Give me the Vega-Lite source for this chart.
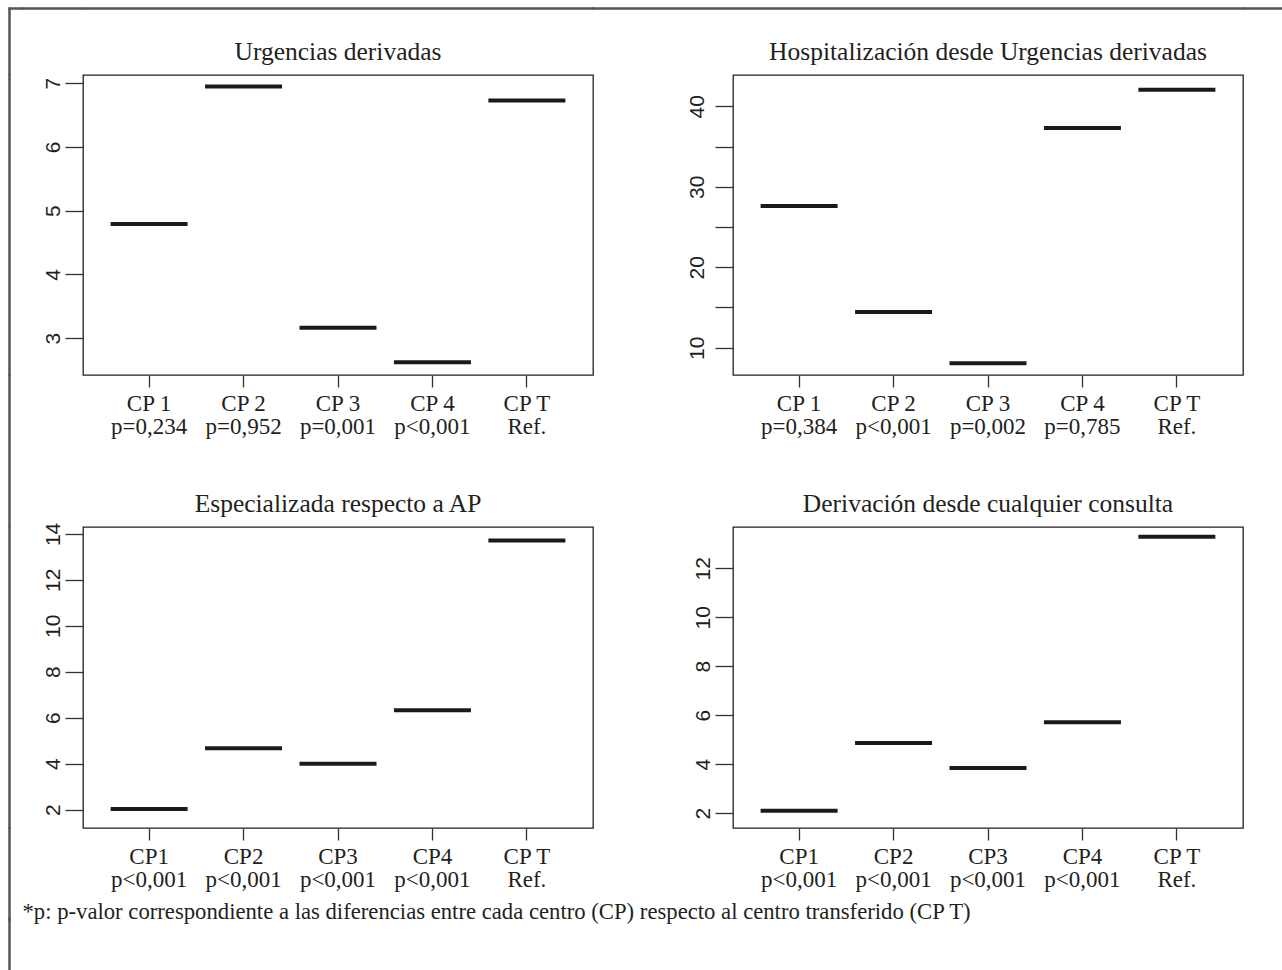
{
  "$schema": "https://vega.github.io/schema/vega-lite/v6.json",
  "padding": {"left": 8, "top": 7, "right": 0, "bottom": 0},
  "background": "white",
  "datasets": {
    "vacio": [{"v": 0}],
    "nota": [{"texto": "*p: p-valor correspondiente a las diferencias entre cada centro (CP) respecto al centro transferido (CP T)"}],
    "medianas": [
      {"panel": "A", "cp": "CP 1|p=0,234", "valor": 4.79},
      {"panel": "A", "cp": "CP 2|p=0,952", "valor": 6.95},
      {"panel": "A", "cp": "CP 3|p=0,001", "valor": 3.16},
      {"panel": "A", "cp": "CP 4|p<0,001", "valor": 2.62},
      {"panel": "A", "cp": "CP T|Ref.", "valor": 6.73},
      {"panel": "B", "cp": "CP 1|p=0,384", "valor": 27.6},
      {"panel": "B", "cp": "CP 2|p<0,001", "valor": 14.45},
      {"panel": "B", "cp": "CP 3|p=0,002", "valor": 8.06},
      {"panel": "B", "cp": "CP 4|p=0,785", "valor": 37.3},
      {"panel": "B", "cp": "CP T|Ref.", "valor": 42.06},
      {"panel": "C", "cp": "CP1|p<0,001", "valor": 2.03},
      {"panel": "C", "cp": "CP2|p<0,001", "valor": 4.67},
      {"panel": "C", "cp": "CP3|p<0,001", "valor": 4.0},
      {"panel": "C", "cp": "CP4|p<0,001", "valor": 6.32},
      {"panel": "C", "cp": "CP T|Ref.", "valor": 13.71},
      {"panel": "D", "cp": "CP1|p<0,001", "valor": 2.1},
      {"panel": "D", "cp": "CP2|p<0,001", "valor": 4.86},
      {"panel": "D", "cp": "CP3|p<0,001", "valor": 3.84},
      {"panel": "D", "cp": "CP4|p<0,001", "valor": 5.71},
      {"panel": "D", "cp": "CP T|Ref.", "valor": 13.29}
    ]
  },
  "config": {
    "view": {"stroke": null},
    "text": {"fontSize": 0},
    "title": {"font": "Liberation Serif", "fontSize": 25.5, "fontWeight": "normal", "color": "#231f20", "baseline": "alphabetic", "offset": 10, "anchor": "middle", "frame": "group"},
    "axis": {"domain": false, "grid": false, "title": null, "tickColor": "#333333", "tickWidth": 1.3, "labelColor": "#231f20", "labelFlush": false, "labelOverlap": false, "labelBound": false},
    "axisX": {"tickSize": 12, "labelFont": "Liberation Serif", "labelFontSize": 23, "labelPadding": 5.5, "labelLineHeight": 23, "labelAngle": 0, "labelBaseline": "top", "labelAlign": "center", "bandPosition": 0.5},
    "axisY": {"tickSize": 18, "labelFont": "Liberation Sans", "labelFontSize": 21, "labelAngle": -90, "labelPadding": 6, "labelBaseline": "alphabetic", "labelAlign": "center"}
  },
  "columns": 7,
  "spacing": 0,
  "bounds": "flush",
  "align": "each",
  "resolve": {"scale": {"x": "independent", "y": "independent"}},
  "concat": [
    {"data": {"name": "vacio"}, "width": 1, "height": 1, "view": {"stroke": "#555555", "strokeWidth": 1.5}, "mark": {"type": "text"}, "encoding": {"text": {"value": ""}}},
    {"data": {"name": "vacio"}, "width": 12, "height": 1, "view": {"stroke": "#555555", "strokeWidth": 1.5}, "mark": {"type": "text"}, "encoding": {"text": {"value": ""}}},
    {"data": {"name": "vacio"}, "width": 60.55, "height": 1, "view": {"stroke": "#555555", "strokeWidth": 1.5}, "mark": {"type": "text"}, "encoding": {"text": {"value": ""}}},
    {"data": {"name": "vacio"}, "width": 510, "height": 1, "view": {"stroke": "#555555", "strokeWidth": 1.5}, "mark": {"type": "text"}, "encoding": {"text": {"value": ""}}},
    {"data": {"name": "vacio"}, "width": 139.15, "height": 1, "view": {"stroke": "#555555", "strokeWidth": 1.5}, "mark": {"type": "text"}, "encoding": {"text": {"value": ""}}},
    {"data": {"name": "vacio"}, "width": 510, "height": 1, "view": {"stroke": "#555555", "strokeWidth": 1.5}, "mark": {"type": "text"}, "encoding": {"text": {"value": ""}}},
    {"data": {"name": "vacio"}, "width": 39.5, "height": 1, "view": {"stroke": "#555555", "strokeWidth": 1.5}, "mark": {"type": "text"}, "encoding": {"text": {"value": ""}}},

    {"data": {"name": "vacio"}, "width": 1, "height": 65.55, "view": {"stroke": "#555555", "strokeWidth": 1.5}, "mark": {"type": "text"}, "encoding": {"text": {"value": ""}}},
    {"data": {"name": "vacio"}, "width": 1, "height": 1, "mark": {"type": "text"}, "encoding": {"text": {"value": ""}}},
    {"data": {"name": "vacio"}, "width": 1, "height": 1, "mark": {"type": "text"}, "encoding": {"text": {"value": ""}}},
    {"data": {"name": "vacio"}, "width": 1, "height": 1, "mark": {"type": "text"}, "encoding": {"text": {"value": ""}}},
    {"data": {"name": "vacio"}, "width": 1, "height": 1, "mark": {"type": "text"}, "encoding": {"text": {"value": ""}}},
    {"data": {"name": "vacio"}, "width": 1, "height": 1, "mark": {"type": "text"}, "encoding": {"text": {"value": ""}}},
    {"data": {"name": "vacio"}, "width": 1, "height": 1, "mark": {"type": "text"}, "encoding": {"text": {"value": ""}}},

    {"data": {"name": "vacio"}, "width": 1, "height": 300, "view": {"stroke": "#555555", "strokeWidth": 1.5}, "mark": {"type": "text"}, "encoding": {"text": {"value": ""}}},
    {"data": {"name": "vacio"}, "width": 1, "height": 1, "mark": {"type": "text"}, "encoding": {"text": {"value": ""}}},
    {"data": {"name": "vacio"}, "width": 1, "height": 1, "mark": {"type": "text"}, "encoding": {"text": {"value": ""}}},
    {
      "data": {"name": "medianas"},
      "width": 510, "height": 300,
      "title": "Urgencias derivadas",
      "view": {"stroke": "#231f20", "strokeWidth": 1.3},
      "transform": [{"filter": "datum.panel === 'A'"}],
      "mark": {"type": "tick", "size": 77, "thickness": 4, "color": "#1a1a1a", "opacity": 1},
      "encoding": {
        "x": {"field": "cp", "type": "nominal", "sort": null, "scale": {"type": "band", "paddingInner": 0, "paddingOuter": 0.2}, "axis": {"labelExpr": "split(datum.label, '|')"}},
        "y": {"field": "valor", "type": "quantitative", "scale": {"domain": [2.42, 7.13], "nice": false, "zero": false}, "axis": {"values": [3, 4, 5, 6, 7]}}
      }
    },
    {"data": {"name": "vacio"}, "width": 1, "height": 1, "mark": {"type": "text"}, "encoding": {"text": {"value": ""}}},
    {
      "data": {"name": "medianas"},
      "width": 510, "height": 300,
      "title": "Hospitalización desde Urgencias derivadas",
      "view": {"stroke": "#231f20", "strokeWidth": 1.3},
      "transform": [{"filter": "datum.panel === 'B'"}],
      "mark": {"type": "tick", "size": 77, "thickness": 4, "color": "#1a1a1a", "opacity": 1},
      "encoding": {
        "x": {"field": "cp", "type": "nominal", "sort": null, "scale": {"type": "band", "paddingInner": 0, "paddingOuter": 0.2}, "axis": {"labelExpr": "split(datum.label, '|')"}},
        "y": {"field": "valor", "type": "quantitative", "scale": {"domain": [6.61, 43.89], "nice": false, "zero": false}, "axis": {"values": [10, 15, 20, 25, 30, 35, 40], "labelPadding": 12, "labelExpr": "datum.value % 10 === 0 ? datum.label : ''"}}
      }
    },
    {"data": {"name": "vacio"}, "width": 1, "height": 1, "mark": {"type": "text"}, "encoding": {"text": {"value": ""}}},

    {"data": {"name": "vacio"}, "width": 1, "height": 151.4, "view": {"stroke": "#555555", "strokeWidth": 1.5}, "mark": {"type": "text"}, "encoding": {"text": {"value": ""}}},
    {"data": {"name": "vacio"}, "width": 1, "height": 1, "mark": {"type": "text"}, "encoding": {"text": {"value": ""}}},
    {"data": {"name": "vacio"}, "width": 1, "height": 1, "mark": {"type": "text"}, "encoding": {"text": {"value": ""}}},
    {"data": {"name": "vacio"}, "width": 1, "height": 1, "mark": {"type": "text"}, "encoding": {"text": {"value": ""}}},
    {"data": {"name": "vacio"}, "width": 1, "height": 1, "mark": {"type": "text"}, "encoding": {"text": {"value": ""}}},
    {"data": {"name": "vacio"}, "width": 1, "height": 1, "mark": {"type": "text"}, "encoding": {"text": {"value": ""}}},
    {"data": {"name": "vacio"}, "width": 1, "height": 1, "mark": {"type": "text"}, "encoding": {"text": {"value": ""}}},

    {"data": {"name": "vacio"}, "width": 1, "height": 301, "view": {"stroke": "#555555", "strokeWidth": 1.5}, "mark": {"type": "text"}, "encoding": {"text": {"value": ""}}},
    {"data": {"name": "vacio"}, "width": 1, "height": 1, "mark": {"type": "text"}, "encoding": {"text": {"value": ""}}},
    {"data": {"name": "vacio"}, "width": 1, "height": 1, "mark": {"type": "text"}, "encoding": {"text": {"value": ""}}},
    {
      "data": {"name": "medianas"},
      "width": 510, "height": 301,
      "title": {"text": "Especializada respecto a AP", "offset": 5},
      "view": {"stroke": "#231f20", "strokeWidth": 1.3},
      "transform": [{"filter": "datum.panel === 'C'"}],
      "mark": {"type": "tick", "size": 77, "thickness": 4, "color": "#1a1a1a", "opacity": 1},
      "encoding": {
        "x": {"field": "cp", "type": "nominal", "sort": null, "scale": {"type": "band", "paddingInner": 0, "paddingOuter": 0.2}, "axis": {"labelExpr": "split(datum.label, '|')"}},
        "y": {"field": "valor", "type": "quantitative", "scale": {"domain": [1.2, 14.3], "nice": false, "zero": false}, "axis": {"values": [2, 4, 6, 8, 10, 12, 14]}}
      }
    },
    {"data": {"name": "vacio"}, "width": 1, "height": 1, "mark": {"type": "text"}, "encoding": {"text": {"value": ""}}},
    {
      "data": {"name": "medianas"},
      "width": 510, "height": 301,
      "title": "Derivación desde cualquier consulta",
      "view": {"stroke": "#231f20", "strokeWidth": 1.3},
      "transform": [{"filter": "datum.panel === 'D'"}],
      "mark": {"type": "tick", "size": 77, "thickness": 4, "color": "#1a1a1a", "opacity": 1},
      "encoding": {
        "x": {"field": "cp", "type": "nominal", "sort": null, "scale": {"type": "band", "paddingInner": 0, "paddingOuter": 0.2}, "axis": {"labelExpr": "split(datum.label, '|')"}},
        "y": {"field": "valor", "type": "quantitative", "scale": {"domain": [1.39, 13.69], "nice": false, "zero": false}, "axis": {"values": [2, 4, 6, 8, 10, 12]}}
      }
    },
    {"data": {"name": "vacio"}, "width": 1, "height": 1, "mark": {"type": "text"}, "encoding": {"text": {"value": ""}}},

    {"data": {"name": "vacio"}, "width": 1, "height": 90, "view": {"stroke": "#555555", "strokeWidth": 1.5}, "mark": {"type": "text"}, "encoding": {"text": {"value": ""}}},
    {"data": {"name": "vacio"}, "width": 1, "height": 1, "mark": {"type": "text"}, "encoding": {"text": {"value": ""}}},
    {"data": {"name": "vacio"}, "width": 1, "height": 1, "mark": {"type": "text"}, "encoding": {"text": {"value": ""}}},
    {"data": {"name": "vacio"}, "width": 1, "height": 1, "mark": {"type": "text"}, "encoding": {"text": {"value": ""}}},
    {"data": {"name": "vacio"}, "width": 1, "height": 1, "mark": {"type": "text"}, "encoding": {"text": {"value": ""}}},
    {"data": {"name": "vacio"}, "width": 1, "height": 1, "mark": {"type": "text"}, "encoding": {"text": {"value": ""}}},
    {"data": {"name": "vacio"}, "width": 1, "height": 1, "mark": {"type": "text"}, "encoding": {"text": {"value": ""}}},

    {"data": {"name": "vacio"}, "width": 1, "height": 2, "view": {"stroke": "#555555", "strokeWidth": 1.5}, "mark": {"type": "text"}, "encoding": {"text": {"value": ""}}},
    {"data": {"name": "vacio"}, "width": 1, "height": 1, "mark": {"type": "text"}, "encoding": {"text": {"value": ""}}},
    {
      "data": {"name": "nota"},
      "width": 1, "height": 2,
      "mark": {"type": "text", "align": "left", "baseline": "alphabetic", "font": "Liberation Serif", "fontSize": 22.7, "color": "#231f20"},
      "encoding": {"text": {"field": "texto", "type": "nominal"}}
    },
    {"data": {"name": "vacio"}, "width": 1, "height": 1, "mark": {"type": "text"}, "encoding": {"text": {"value": ""}}},
    {"data": {"name": "vacio"}, "width": 1, "height": 1, "mark": {"type": "text"}, "encoding": {"text": {"value": ""}}},
    {"data": {"name": "vacio"}, "width": 1, "height": 1, "mark": {"type": "text"}, "encoding": {"text": {"value": ""}}},
    {"data": {"name": "vacio"}, "width": 1, "height": 1, "mark": {"type": "text"}, "encoding": {"text": {"value": ""}}},

    {"data": {"name": "vacio"}, "width": 1, "height": 50, "view": {"stroke": "#555555", "strokeWidth": 1.5}, "mark": {"type": "text"}, "encoding": {"text": {"value": ""}}}
  ]
}
